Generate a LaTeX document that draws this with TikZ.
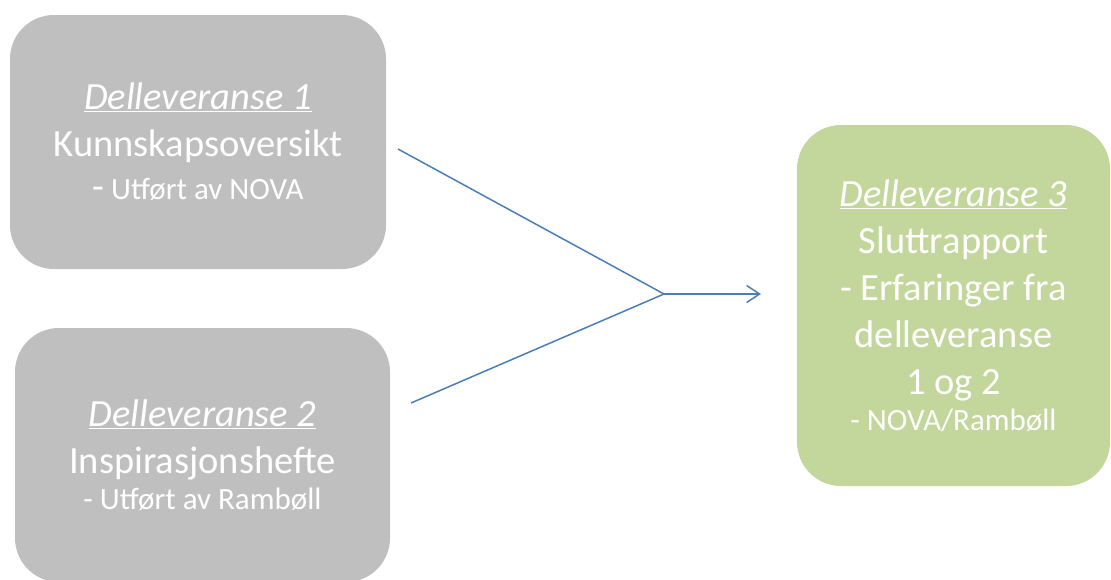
\documentclass[tikz,border=0pt]{standalone}
\usepackage{fontspec}
\setmainfont{Carlito}
\usetikzlibrary{arrows.meta}
\definecolor{boxgrey}{RGB}{191,191,191}
\definecolor{boxgreen}{RGB}{195,214,155}
\definecolor{linkblue}{RGB}{74,126,187}
\newcommand{\bigtxt}{\fontsize{38.5}{47}\selectfont}
\newcommand{\smalltxt}{\fontsize{31}{47}\selectfont}
\newcommand{\headtxt}[1]{\underline{\textit{#1}}}
\tikzset{
  box/.style={rounded corners=44pt, inner sep=0pt, text=white, align=center, font=\bigtxt},
  greybox/.style={box, fill=boxgrey},
  greenbox/.style={box, fill=boxgreen},
  link/.style={draw=linkblue, line width=1.5pt},
}
\begin{document}
\begin{tikzpicture}[x=1pt,y=-1pt]
\useasboundingbox (0,0) rectangle (1111,579);
\node[greybox, minimum width=376pt, minimum height=254pt] (b1) at (198,142)
  {\headtxt{Delleveranse 1}\\
   Kunnskapsoversikt\\[-4pt]
   -\smalltxt\ Utført av NOVA};
\node[greybox, minimum width=375pt, minimum height=254pt] (b2) at (202.5,455)
  {\headtxt{Delleveranse 2}\\
   Inspirasjonshefte\\[-11pt]
   \smalltxt - Utført av Rambøll};
\node[greenbox, minimum width=313pt, minimum height=361pt] (b3) at (953.5,305.5)
  {\headtxt{Delleveranse 3}\\
   Sluttrapport\\
   - Erfaringer fra\\
   delleveranse\\
   1 og 2\\[-11pt]
   \smalltxt - NOVA/Rambøll};
\coordinate (s1) at (398,149);
\coordinate (s2) at (411,403);
\coordinate (j) at (664,294);
\coordinate (e) at (761,294);
\draw[link] (s1) -- (j);
\draw[link] (s2) -- (j);
\draw[link, -{Straight Barb[length=13pt,width=17pt]}] (j) -- (e);
\end{tikzpicture}
\end{document}
